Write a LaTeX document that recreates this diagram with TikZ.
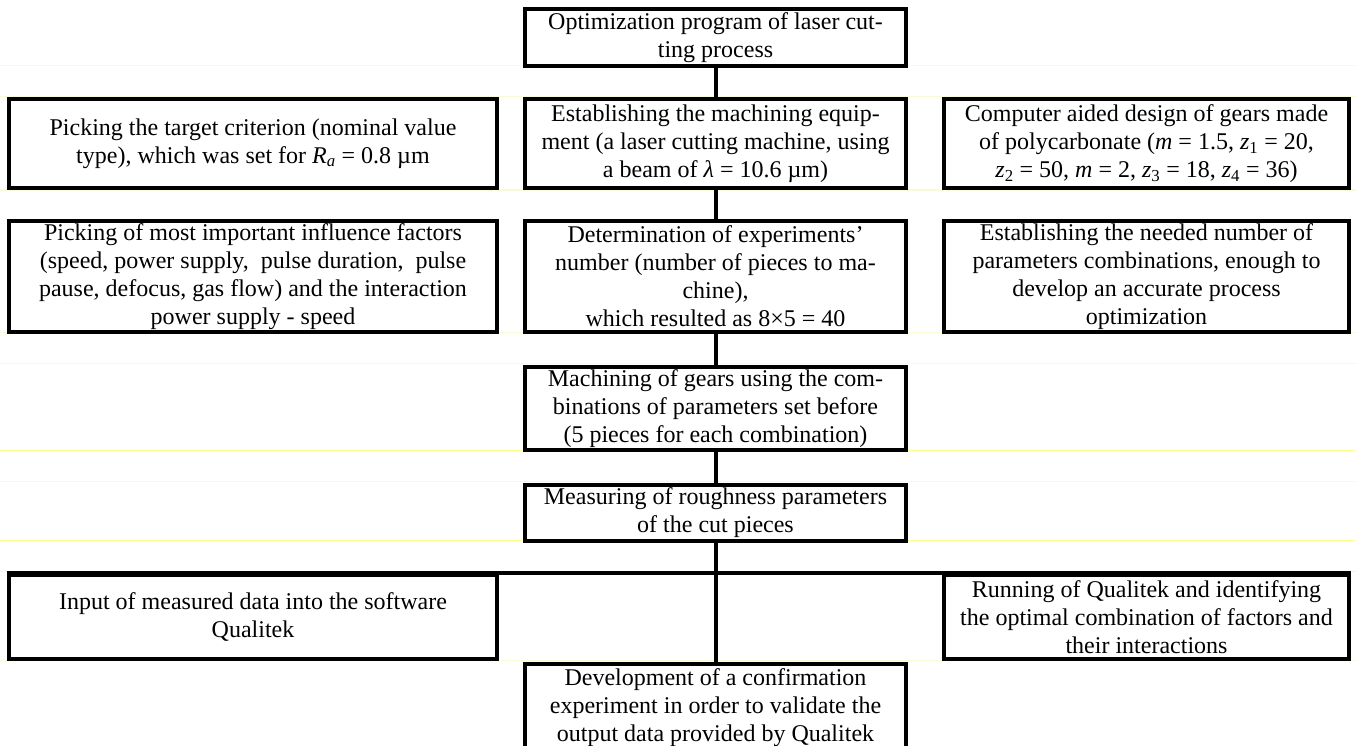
\documentclass[tikz,border=0pt]{standalone}
\usepackage{fontspec}
\setmainfont{Liberation Serif}
\definecolor{yfaint}{RGB}{250,250,212}
\definecolor{ybright}{RGB}{255,255,140}
\tikzset{
  box/.style={draw=black, line width=4pt, fill=white, align=center, inner sep=0pt,
              font=\fontsize{24}{28}\selectfont},
  conn/.style={draw=black, line width=4pt},
  guide/.style={line width=1pt}
}
\newcommand{\myit}[1]{\textit{#1}}
\begin{document}
\begin{tikzpicture}[x=1pt,y=-1pt]
\path[use as bounding box] (0,0) rectangle (1356,746);
\clip (0,0) rectangle (1356,746);
% faint table guide lines
\draw[guide, yfaint] (0,66) -- (1356,66);
\draw[guide, yfaint] (0,97) -- (1356,97);
\draw[guide, yfaint] (0,190) -- (1356,190);
\draw[guide, yfaint] (0,332) -- (1356,332);
\draw[guide, yfaint] (0,363) -- (1356,363);
\draw[guide, ybright] (0,450) -- (1356,450);
\draw[guide, yfaint] (0,481) -- (1356,481);
\draw[guide, ybright] (0,540) -- (1356,540);
\draw[guide, ybright] (0,571) -- (1356,571);
\draw[guide, yfaint] (0,660) -- (1356,660);

% boxes
\node[box, minimum width=381pt, minimum height=57pt] (top) at (715.5,37.5)
  {Optimization program of laser cut-\\ting process};

\node[box, minimum width=488pt, minimum height=89pt] (r2L) at (253,143.5)
  {Picking the target criterion (nominal value\\type), which was set for \myit{R}\textsubscript{\myit{a}} = 0.8 µm};
\node[box, minimum width=381pt, minimum height=89pt] (r2M) at (715.5,143.5)
  {Establishing the machining equip-\\ment (a laser cutting machine, using\\a beam of \myit{λ} = 10.6 µm)};
\node[box, minimum width=405pt, minimum height=89pt] (r2R) at (1146.5,143.5)
  {Computer aided design of gears made\\of polycarbonate (\myit{m} = 1.5, \myit{z}\textsubscript{1} = 20,\\\myit{z}\textsubscript{2} = 50, \myit{m} = 2, \myit{z}\textsubscript{3} = 18, \myit{z}\textsubscript{4} = 36)};

\node[box, minimum width=488pt, minimum height=111pt] (r3L) at (253,276.5)
  {Picking of most important influence factors\\(speed, power supply,\ \ pulse duration,\ \ pulse\\pause, defocus, gas flow) and the interaction\\power supply - speed};
\node[box, minimum width=381pt, minimum height=111pt] (r3M) at (715.5,276.5)
  {Determination of experiments’\\number (number of pieces to ma-\\chine),\\which resulted as 8×5 = 40};
\node[box, minimum width=405pt, minimum height=111pt] (r3R) at (1146.5,276.5)
  {Establishing the needed number of\\parameters combinations, enough to\\develop an accurate process\\optimization};

\node[box, minimum width=381pt, minimum height=83pt] (mach) at (715.5,408.5)
  {Machining of gears using the com-\\binations of parameters set before\\(5 pieces for each combination)};

\node[box, minimum width=381pt, minimum height=56pt] (meas) at (715.5,513)
  {Measuring of roughness parameters\\of the cut pieces};

\node[box, minimum width=488pt, minimum height=84pt] (inL) at (253,617)
  {Input of measured data into the software\\Qualitek};
\node[box, minimum width=405pt, minimum height=84pt] (inR) at (1146.5,617)
  {Running of Qualitek and identifying\\the optimal combination of factors and\\their interactions};

\node[box, minimum width=381pt, minimum height=88pt] (bot) at (715.5,708)
  {Development of a confirmation\\experiment in order to validate the\\output data provided by Qualitek};

% connectors
\draw[conn] (top) -- (r2M);
\draw[conn] (r2M) -- (r3M);
\draw[conn] (r3M) -- (mach);
\draw[conn] (mach) -- (meas);
\draw[conn] (meas) -- (bot);
\draw[conn] (inL.north west) -- (inR.north east);
\end{tikzpicture}
\end{document}
